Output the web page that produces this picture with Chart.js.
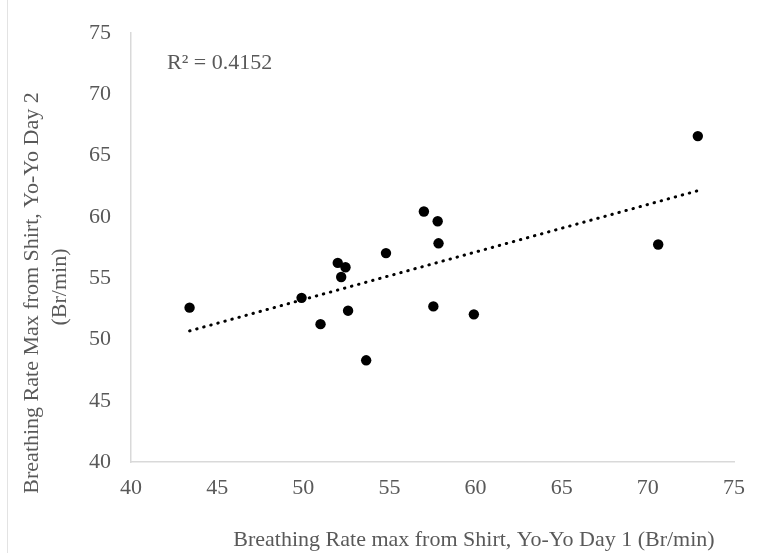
<!DOCTYPE html>
<html>
<head>
<meta charset="utf-8">
<script src="https://cdn.jsdelivr.net/npm/chart.js@4"></script>
<style>
  body { margin: 0; background: #fff; }
  #wrap { position: relative; width: 758px; height: 553px; }
  #edge { position: absolute; left: 7px; top: 0; width: 1px; height: 553px; background: #e3e3e3; }
</style>
</head>
<body>
<div id="wrap">
  <canvas id="scatter" width="758" height="553"></canvas>
  <div id="edge"></div>
</div>
<script>
// breathing rate max, day 1 (x) vs day 2 (y)
const day1 = [43.4, 49.9, 52.0, 52.45, 52.2, 52.6, 51.0, 53.65, 54.8, 57.0, 57.8, 57.85, 57.55, 59.9, 70.6, 72.9];
const day2 = [52.6, 53.4, 56.25, 55.9, 55.1, 52.35, 51.25, 48.3, 57.05, 60.45, 59.65, 57.85, 52.7, 52.05, 57.75, 66.6];
const xTicks = [40, 45, 50, 55, 60, 65, 70, 75];
const yTicks = [40, 45, 50, 55, 60, 65, 70, 75];
const r2Label = 'R² = 0.4152';
const xTitle = 'Breathing Rate max from Shirt, Yo-Yo Day 1 (Br/min)';
const yTitle = ['Breathing Rate Max from Shirt, Yo-Yo Day 2', '(Br/min)'];

const grey = '#595959';
const serif = '"Liberation Serif", "Times New Roman", serif';

// least squares line for the trendline
function fitLine(xs, ys) {
  const n = xs.length;
  const mx = xs.reduce((a, b) => a + b, 0) / n;
  const my = ys.reduce((a, b) => a + b, 0) / n;
  let sxy = 0, sxx = 0;
  for (let i = 0; i < n; i++) {
    sxy += (xs[i] - mx) * (ys[i] - my);
    sxx += (xs[i] - mx) * (xs[i] - mx);
  }
  const slope = sxy / sxx;
  return { slope, icpt: my - slope * mx };
}

const fit = fitLine(day1, day2);
const xMin = Math.min(...day1), xMax = Math.max(...day1);
const trend = [xMin, xMax].map(x => ({ x, y: fit.icpt + fit.slope * x }));
const points = day1.map((x, i) => ({ x, y: day2[i] }));

const textPlugin = {
  id: 'texts',
  afterDraw(chart) {
    const ctx = chart.ctx;
    ctx.save();
    ctx.fillStyle = grey;
    ctx.font = '22px ' + serif;
    ctx.textBaseline = 'middle';
    ctx.textAlign = 'center';
    ctx.fillText(xTitle, 474, 540);

    ctx.save();
    ctx.translate(32, 293);
    ctx.rotate(-Math.PI / 2);
    ctx.fillText(yTitle[0], 0, 0);
    ctx.restore();
    ctx.save();
    ctx.translate(60, 287);
    ctx.rotate(-Math.PI / 2);
    ctx.fillText(yTitle[1], 0, 0);
    ctx.restore();

    ctx.textAlign = 'left';
    ctx.fillText(r2Label, 167, 63);
    ctx.restore();
  }
};

new Chart(document.getElementById('scatter'), {
  type: 'scatter',
  data: {
    datasets: [
      {
        label: 'data',
        data: points,
        pointRadius: 5.2,
        pointHoverRadius: 5.2,
        backgroundColor: '#000',
        borderColor: '#000',
        borderWidth: 0
      },
      {
        type: 'line',
        label: 'trend',
        data: trend,
        borderColor: '#000',
        borderWidth: 3,
        borderDash: [0.5, 6.8],
        borderCapStyle: 'round',
        pointRadius: 0,
        fill: false
      }
    ]
  },
  options: {
    responsive: false,
    animation: false,
    layout: { padding: { top: 28, right: 15, left: 0, bottom: 0 } },
    plugins: { legend: { display: false }, tooltip: { enabled: false } },
    scales: {
      x: {
        type: 'linear',
        min: 40, max: 75,
        afterBuildTicks: s => { s.ticks = xTicks.map(v => ({ value: v })); },
        afterFit: s => { s.height = 91; },
        grid: { display: false, drawTicks: false },
        border: { display: true, color: '#d9d9d9', width: 1.5 },
        ticks: { color: grey, padding: 13, font: { family: serif, size: 22 } }
      },
      y: {
        type: 'linear',
        min: 40, max: 75,
        afterBuildTicks: s => { s.ticks = yTicks.map(v => ({ value: v })); },
        afterFit: s => { s.width = 131; },
        grid: { display: false, drawTicks: false },
        border: { display: true, color: '#d9d9d9', width: 1.5 },
        ticks: { color: grey, padding: 20, font: { family: serif, size: 22 } }
      }
    }
  },
  plugins: [textPlugin]
});
</script>
</body>
</html>
